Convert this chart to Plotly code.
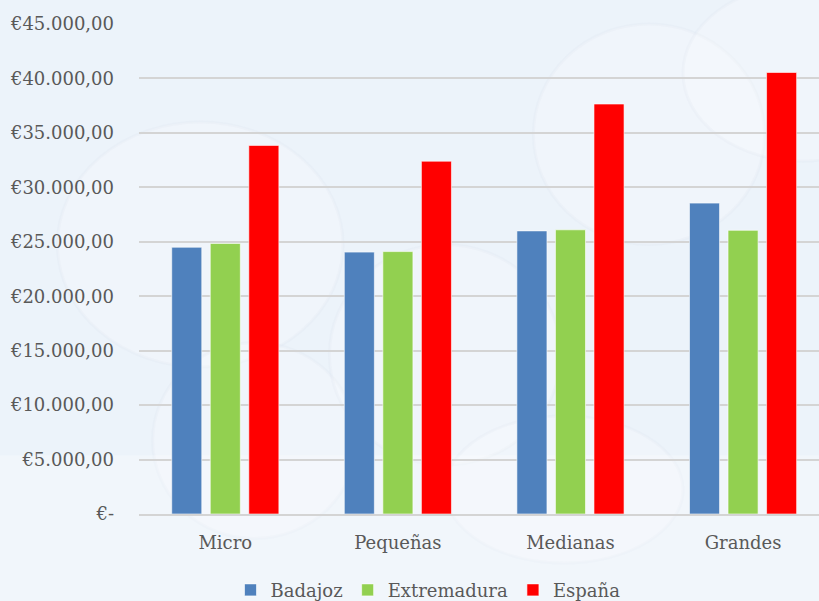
import plotly.graph_objects as go

# Salario medio anual por tamaño de empresa
categorias = ["Micro", "Pequeñas", "Medianas", "Grandes"]
badajoz = [24500, 24050, 26000, 28550]
extremadura = [24850, 24100, 26100, 26050]
espana = [33850, 32400, 37650, 40550]

series = [
    ("Badajoz", badajoz, "#4F81BD"),
    ("Extremadura", extremadura, "#92D050"),
    ("España", espana, "#FF0000"),
]

tick_vals = [0, 5000, 10000, 15000, 20000, 25000, 30000, 35000, 40000, 45000]
tick_text = ["€-", "€5.000,00", "€10.000,00", "€15.000,00", "€20.000,00",
             "€25.000,00", "€30.000,00", "€35.000,00", "€40.000,00", "€45.000,00"]

FONT = "DejaVu Serif"
TXT = "#595959"
SIZE = 18

fig = go.Figure()
for nombre, valores, color in series:
    fig.add_trace(go.Bar(
        x=categorias, y=valores, name=nombre,
        marker=dict(color=color, line=dict(color="rgba(255,255,255,0.6)", width=1)),
    ))

# faint cloud shapes behind the plot
nubes = [
    (-0.12, 0.30, 0.30, 0.80),
    (0.02, -0.05, 0.32, 0.35),
    (0.28, 0.10, 0.62, 0.55),
    (0.58, 0.55, 0.92, 1.00),
    (0.80, 0.72, 1.15, 1.08),
    (0.45, -0.10, 0.80, 0.20),
]
shapes = []
for x0, y0, x1, y1 in nubes:
    shapes.append(dict(type="circle", xref="paper", yref="paper", x0=x0, y0=y0,
                       x1=x1, y1=y1, fillcolor="rgba(255,255,255,0.22)",
                       line=dict(color="rgba(215,224,235,0.15)", width=3),
                       layer="below"))
# lighter band along the bottom of the chart
shapes.append(dict(type="rect", xref="paper", yref="paper", x0=-0.3, x1=1.1,
                   y0=-0.2, y1=0.12, fillcolor="rgba(255,255,255,0.25)",
                   line=dict(width=0), layer="below"))

fig.update_layout(
    width=819, height=601,
    margin=dict(l=139, r=0, t=24, b=87, autoexpand=False),
    paper_bgcolor="#ECF3FA",
    plot_bgcolor="rgba(0,0,0,0)",
    barmode="group",
    bargap=0.33,
    bargroupgap=0.22,
    shapes=shapes,
    font=dict(family=FONT, color=TXT, size=SIZE),
    legend=dict(orientation="h", x=0.425, xanchor="center",
                yref="container", y=0.018, yanchor="middle",
                font=dict(family=FONT, size=SIZE, color=TXT), bgcolor="rgba(0,0,0,0)",
                itemwidth=30),
    xaxis=dict(
        range=[-0.5, 3.44], automargin=False,
        showgrid=False, showline=True, linecolor="#D4D4D4", linewidth=2,
        ticks="", ticklabelstandoff=11,
        tickfont=dict(family=FONT, size=SIZE, color=TXT),
    ),
    yaxis=dict(
        range=[0, 45000], automargin=False,
        tickvals=tick_vals, ticktext=tick_text,
        showgrid=True, gridcolor="#D4D4D4", gridwidth=2,
        zeroline=False, showline=False, ticks="",
        ticklabelstandoff=24,
        tickfont=dict(family=FONT, size=SIZE, color=TXT),
    ),
)

fig.write_html("out.html")
